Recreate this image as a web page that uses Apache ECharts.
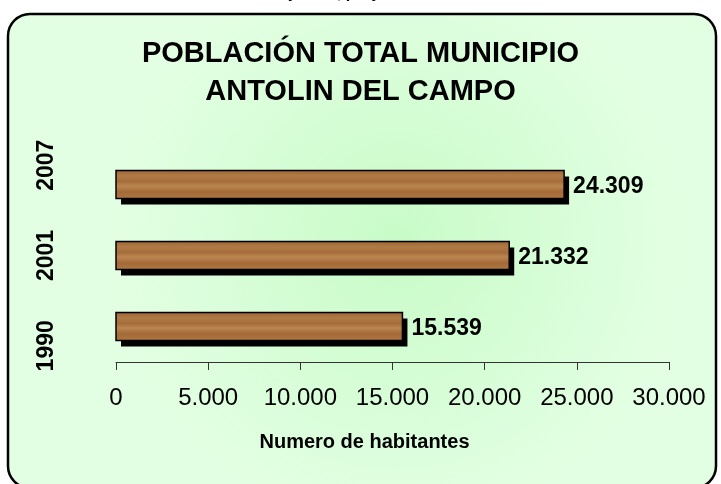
<!DOCTYPE html>
<html>
<head>
<meta charset="utf-8">
<script src="https://cdn.jsdelivr.net/npm/echarts@6/dist/echarts.min.js"></script>
<style>
html, body { margin: 0; padding: 0; background: #fff; }
#chart { width: 721px; height: 484px; }
</style>
</head>
<body>
<div id="chart"></div>
<script>
// datos
var years = ['1990', '2001', '2007'];
var habitantes = [15539, 21332, 24309];
var xTicks = [0, 5000, 10000, 15000, 20000, 25000, 30000];

var chart = echarts.init(document.getElementById('chart'));
var FONT = '"Liberation Sans", Arial, sans-serif';

// formato con punto de miles
function fmt(v) {
	return String(v).replace(/\B(?=(\d{3})+(?!\d))/g, '.');
}

// textura de madera aproximada
var wood = new echarts.graphic.LinearGradient(0, 0, 0, 1, [
	{offset: 0, color: '#9a6333'},
	{offset: 0.2, color: '#b07a45'},
	{offset: 0.4, color: '#a56d3b'},
	{offset: 0.55, color: '#bb8650'},
	{offset: 0.75, color: '#a36a38'},
	{offset: 1, color: '#b07842'}
]);

var barData = habitantes.map(function(v, i) { return [v, i]; });

chart.setOption({
	animation: false,
	textStyle: {fontFamily: FONT},
	graphic: [
		{
			type: 'rect', z: -10,
			shape: {x: 8, y: 14, width: 708, height: 474, r: 22},
			style: {
				fill: new echarts.graphic.RadialGradient(0.55, 0.48, 0.6, [
					{offset: 0, color: '#c8fbc8'},
					{offset: 1, color: '#e3ffe3'}
				]),
				stroke: '#000', lineWidth: 2.5
			}
		},
		{
			type: 'text', left: 'center', top: 35,
			style: {
				text: 'POBLACIÓN TOTAL MUNICIPIO\nANTOLIN DEL CAMPO',
				font: 'bold 29px ' + FONT,
				fill: '#000', textAlign: 'center', lineHeight: 38
			}
		},
		// titulo superior recortado
		{
			type: 'text', x: 284, y: 2,
			style: {
				text: 'Población Censos 1990 - 2001',
				font: 'bold 16px ' + FONT,
				fill: '#000', textAlign: 'right', textVerticalAlign: 'bottom'
			}
		},
		{
			type: 'text', x: 288, y: 2,
			style: {
				text: 'y 2007, proyección',
				font: 'bold 16px ' + FONT,
				fill: '#000', textAlign: 'left', textVerticalAlign: 'bottom'
			}
		}
	],
	grid: [
		{left: 116, right: 52, top: 149, bottom: 122},
		{left: 116, right: 52, top: 120, bottom: 93}
	],
	xAxis: [
		{
			type: 'value', gridIndex: 0,
			min: 0, max: 30000, interval: 5000,
			splitLine: {show: false},
			axisLine: {show: true, lineStyle: {color: '#333', width: 1}},
			axisTick: {show: true, inside: false, length: 8, lineStyle: {color: '#333'}},
			axisLabel: {
				color: '#000', fontSize: 24, margin: 24, hideOverlap: false,
				formatter: function(v) { return fmt(v); }
			},
			name: 'Numero de habitantes',
			nameLocation: 'middle', nameGap: 70,
			nameTextStyle: {color: '#000', fontSize: 20, fontWeight: 'bold', padding: [0, 56, 0, 0]}
		},
		{
			type: 'value', gridIndex: 1, show: false, min: 0, max: 30000
		}
	],
	yAxis: [
		{
			type: 'category', gridIndex: 0, data: years,
			axisLine: {show: false}, axisTick: {show: false},
			axisLabel: {show: false}
		},
		{
			// etiquetas de años giradas, como en el original
			type: 'category', gridIndex: 1, data: years,
			axisLine: {show: false}, axisTick: {show: false},
			axisLabel: {
				rotate: 90, margin: 58, color: '#000',
				fontSize: 23, fontWeight: 'bold'
			}
		}
	],
	series: [
		{
			type: 'custom', xAxisIndex: 0, yAxisIndex: 0,
			data: barData,
			encode: {x: 0, y: 1},
			renderItem: function(params, api) {
				var v = api.value(0);
				var start = api.coord([0, api.value(1)]);
				var end = api.coord([v, api.value(1)]);
				var h = 28;
				var x = start[0], y = end[1] - h / 2, w = end[0] - start[0];
				return {
					type: 'group',
					children: [
						{type: 'rect', shape: {x: x + 5, y: y + 6, width: w, height: h}, style: {fill: '#000'}},
						{type: 'rect', shape: {x: x, y: y, width: w, height: h},
							style: {fill: wood, stroke: '#000', lineWidth: 1.5}},
						{type: 'text', x: end[0] + 9, y: end[1] + 2,
							style: {text: fmt(v), font: 'bold 23px ' + FONT, fill: '#000',
								textAlign: 'left', textVerticalAlign: 'middle'}}
					]
				};
			}
		}
	]
});
</script>
</body>
</html>
